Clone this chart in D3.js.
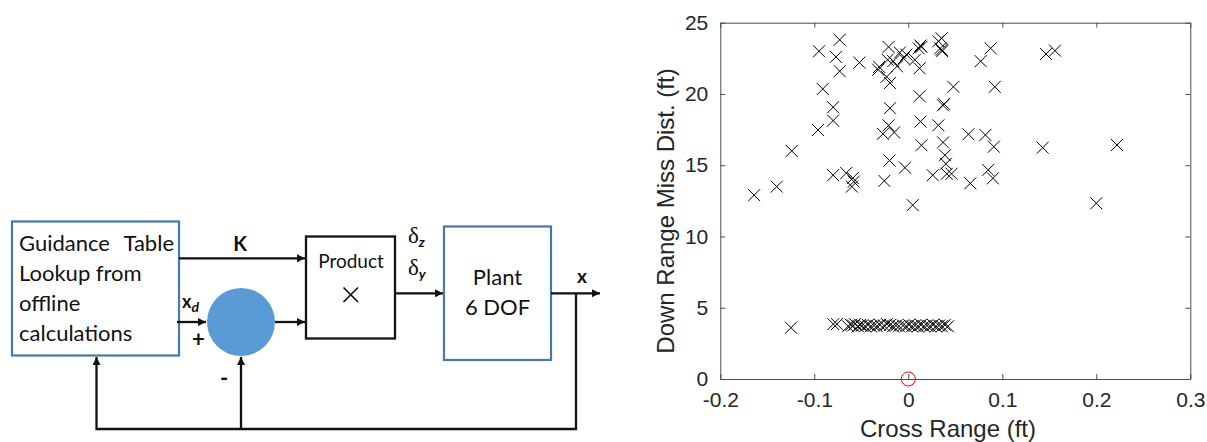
<!DOCTYPE html>
<html>
<head>
<meta charset="utf-8">
<script src="https://cdn.jsdelivr.net/npm/d3@7/dist/d3.min.js"></script>
<style>
  html, body { margin: 0; padding: 0; background: #fff; }
  svg { display: block; }
</style>
</head>
<body>
<svg id="fig" width="1207" height="442"></svg>
<script>
// Miss-distance samples: [cross range (ft), down range (ft)]
const upperHits = [
  [-0.164, 12.9], [-0.140, 13.5], [-0.124, 16.0], [-0.095, 23.0], [-0.073, 23.8],
  [-0.077, 22.6], [-0.073, 21.6], [-0.052, 22.2], [-0.091, 20.35], [-0.080, 19.07],
  [-0.080, 18.13], [-0.096, 17.47], [-0.080, 14.3], [-0.066, 14.45], [-0.059, 14.1],
  [-0.058, 13.85], [-0.060, 13.5], [-0.031, 21.9], [-0.021, 23.3], [-0.022, 22.4],
  [-0.016, 22.3], [-0.009, 22.9], [-0.005, 22.5], [-0.002, 22.76], [0.007, 22.4],
  [0.011, 23.2], [0.013, 23.4], [0.014, 23.3], [-0.032, 21.7], [-0.023, 21.2],
  [-0.0195, 20.77], [-0.012, 21.94], [0.012, 21.8], [0.032, 23.7], [0.034, 23.2],
  [0.0355, 23.9], [0.036, 23.0], [0.0355, 23.1], [0.012, 19.84], [0.048, 20.5],
  [0.037, 19.2], [0.038, 19.3], [-0.0195, 19.0], [0.0876, 23.2], [0.077, 22.3],
  [0.1465, 22.8], [0.156, 23.04], [0.092, 20.5], [0.013, 18.06], [0.014, 16.4],
  [0.032, 17.8], [0.037, 16.6], [0.039, 15.7], [0.040, 15.1], [0.026, 14.3],
  [0.041, 14.4], [0.046, 14.4], [0.064, 17.17], [0.082, 17.12], [0.091, 16.3],
  [0.066, 13.73], [0.085, 14.67], [0.090, 14.08], [0.143, 16.23], [0.222, 16.42],
  [0.200, 12.33], [-0.021, 17.8], [-0.027, 17.2], [-0.015, 17.3], [-0.020, 15.33],
  [-0.0035, 14.83], [-0.0255, 13.9], [0.0047, 12.2]
];

const lowerHits = [
  [-0.1248, 3.6], [-0.0798, 3.85], [-0.0759, 3.85], [-0.0641, 3.7], [-0.061, 3.8],
  [-0.0588, 3.75], [-0.0567, 3.85], [-0.0535, 3.7], [-0.0514, 3.8], [-0.0493, 3.75],
  [-0.046, 3.7], [-0.0429, 3.8], [-0.0397, 3.7], [-0.0365, 3.75], [-0.0333, 3.7],
  [-0.0301, 3.8], [-0.0259, 3.75], [-0.0227, 3.85], [-0.0195, 3.8], [-0.0163, 3.7],
  [-0.0131, 3.75], [-0.0099, 3.7], [-0.0056, 3.75], [-0.0024, 3.7], [0.0007, 3.8],
  [0.0039, 3.7], [0.0071, 3.75], [0.0103, 3.7], [0.0135, 3.8], [0.0167, 3.7],
  [0.0199, 3.75], [0.0231, 3.7], [0.0263, 3.8], [0.0295, 3.7], [0.0327, 3.75],
  [0.0358, 3.7], [0.039, 3.8], [0.0422, 3.7]
];

const target = [[0, 0]];

const xTicks = [-0.2, -0.1, 0, 0.1, 0.2, 0.3];
const yTicks = [0, 5, 10, 15, 20, 25];
const xDomain = [-0.2, 0.3];
const yDomain = [0, 25];

const svg = d3.select("#fig");

// ---------------- block diagram ----------------
const blue = "#4a78a6";
const ink = "#111";
const sans = "Lato, 'Open Sans', sans-serif";

const defs = svg.append("defs");
defs.append("marker")
  .attr("id", "arrow")
  .attr("viewBox", "0 0 10 10")
  .attr("refX", 10).attr("refY", 5)
  .attr("markerUnits", "userSpaceOnUse")
  .attr("markerWidth", 9).attr("markerHeight", 8)
  .attr("orient", "auto")
  .append("path").attr("d", "M0,0 L10,5 L0,10 Z").attr("fill", ink);

const diag = svg.append("g").attr("class", "diagram");

function wire(points, arrow) {
  const p = diag.append("path")
    .attr("d", d3.line()(points))
    .attr("fill", "none")
    .attr("stroke", ink)
    .attr("stroke-width", 2.3);
  if (arrow) p.attr("marker-end", "url(#arrow)");
  return p;
}

function label(xp, yp, t, size, anchor) {
  return diag.append("text").attr("x", xp).attr("y", yp)
    .attr("text-anchor", anchor || "start")
    .attr("font-family", sans).attr("font-size", size).attr("fill", ink).text(t);
}

// Guidance table block
diag.append("rect").attr("x", 12).attr("y", 221.5).attr("width", 167).attr("height", 134)
  .attr("fill", "#fff").attr("stroke", blue).attr("stroke-width", 2.2);
label(19, 250.5, "Guidance", 22);
label(174, 250.5, "Table", 22, "end");
["Lookup from", "offline", "calculations"].forEach((t, i) => label(19, 280.5 + i * 30, t, 22));

// Summing junction
diag.append("circle").attr("cx", 241).attr("cy", 322).attr("r", 34).attr("fill", "#5b9bd5");

// Product block
diag.append("rect").attr("x", 306).attr("y", 236.5).attr("width", 89).attr("height", 102)
  .attr("fill", "#fff").attr("stroke", ink).attr("stroke-width", 2.3);
label(351, 268, "Product", 19, "middle");
diag.append("path").attr("d", "M343.5,287.5L358,302M343.5,302L358,287.5")
  .attr("stroke", ink).attr("stroke-width", 1.7).attr("fill", "none");

// Plant block
diag.append("rect").attr("x", 444).attr("y", 226.5).attr("width", 107).attr("height", 133.5)
  .attr("fill", "#fff").attr("stroke", blue).attr("stroke-width", 2.2);
label(497.5, 285, "Plant", 22, "middle");
label(497.5, 315, "6 DOF", 22, "middle");

// Signal wires
wire([[179, 258.3], [305, 258.3]], true);        // K
wire([[177, 322], [206, 322]], true);            // x_d into junction
wire([[275, 322], [305, 322]], true);            // junction to product
wire([[395, 293.3], [443, 293.3]], true);        // deltas to plant
wire([[551, 293.3], [600, 293.3]], true);        // plant output x
wire([[576, 293.3], [576, 429], [96.5, 429], [96.5, 357]], true);   // feedback to table
wire([[241, 429], [241, 357]], true);            // feedback to junction

// Signal labels
label(240, 250.5, "K", 20, "middle").attr("font-weight", 700);

const xd = diag.append("text").attr("x", 182).attr("y", 308)
  .attr("font-family", sans).attr("font-weight", 700).attr("font-size", 18).attr("fill", ink);
xd.append("tspan").text("x");
xd.append("tspan").attr("dy", 3.5).attr("font-style", "italic").attr("font-size", 14).text("d");

label(198.5, 347, "+", 22, "middle").attr("font-weight", 700);
label(224, 386, "-", 22, "middle").attr("font-weight", 700);

[["z", 243], ["y", 275]].forEach(([s, yy]) => {
  const t = diag.append("text").attr("x", 408).attr("y", yy)
    .attr("font-family", "'Liberation Serif', serif").attr("font-size", 23).attr("fill", ink);
  t.append("tspan").text("δ");
  t.append("tspan").attr("dy", 4).attr("font-family", sans).attr("font-weight", 700)
    .attr("font-style", "italic").attr("font-size", 14).text(s);
});

label(582, 283, "x", 19, "middle").attr("font-weight", 700);

// ---------------- scatter plot ----------------
const plot = { left: 720.3, right: 1190.3, top: 22.7, bottom: 379 };
const x = d3.scaleLinear().domain(xDomain).range([plot.left, plot.right]);
const y = d3.scaleLinear().domain(yDomain).range([plot.bottom, plot.top]);

const axisColor = "#4d4d4d";
const labelFont = "'Liberation Sans', Arial, sans-serif";
const g = svg.append("g").attr("class", "plot");

function styleAxis(sel) {
  sel.select(".domain").attr("stroke", axisColor).attr("stroke-width", 1).attr("fill", "none");
  sel.selectAll(".tick line").attr("stroke", axisColor).attr("stroke-width", 1);
  sel.selectAll(".tick text").attr("fill", "#262626")
    .attr("font-family", labelFont).attr("font-size", 21);
}

const fmt = d => String(d);

g.append("g").attr("transform", `translate(0,${plot.bottom})`)
  .call(d3.axisBottom(x).tickValues(xTicks).tickFormat(fmt).tickSizeInner(-5).tickSizeOuter(0).tickPadding(13))
  .call(styleAxis);
g.append("g").attr("transform", `translate(0,${plot.top})`)
  .call(d3.axisTop(x).tickValues(xTicks).tickFormat("").tickSizeInner(-5).tickSizeOuter(0))
  .call(styleAxis);
g.append("g").attr("transform", `translate(${plot.left},0)`)
  .call(d3.axisLeft(y).tickValues(yTicks).tickFormat(fmt).tickSizeInner(-5).tickSizeOuter(0).tickPadding(12))
  .call(styleAxis);
g.append("g").attr("transform", `translate(${plot.right},0)`)
  .call(d3.axisRight(y).tickValues(yTicks).tickFormat("").tickSizeInner(-5).tickSizeOuter(0))
  .call(styleAxis);

// Axis titles
g.append("text").attr("x", 948).attr("y", 437)
  .attr("text-anchor", "middle").attr("font-family", labelFont).attr("font-size", 24)
  .attr("fill", "#262626").text("Cross Range (ft)");
g.append("text")
  .attr("transform", "translate(674,211) rotate(-90)")
  .attr("text-anchor", "middle").attr("font-family", labelFont).attr("font-size", 24)
  .attr("fill", "#262626").text("Down Range Miss Dist. (ft)");

// Cross markers
const h = 6;
const cross = d => `M${x(d[0]) - h},${y(d[1]) - h}L${x(d[0]) + h},${y(d[1]) + h}M${x(d[0]) - h},${y(d[1]) + h}L${x(d[0]) + h},${y(d[1]) - h}`;
g.append("g").selectAll("path").data(upperHits.concat(lowerHits)).join("path")
  .attr("d", cross).attr("fill", "none").attr("stroke", "#000").attr("stroke-width", 1);

// Aim point
g.append("g").selectAll("circle").data(target).join("circle")
  .attr("cx", d => x(d[0])).attr("cy", d => y(d[1])).attr("r", 7)
  .attr("fill", "none").attr("stroke", "#e00").attr("stroke-width", 1);
</script>
</body>
</html>
